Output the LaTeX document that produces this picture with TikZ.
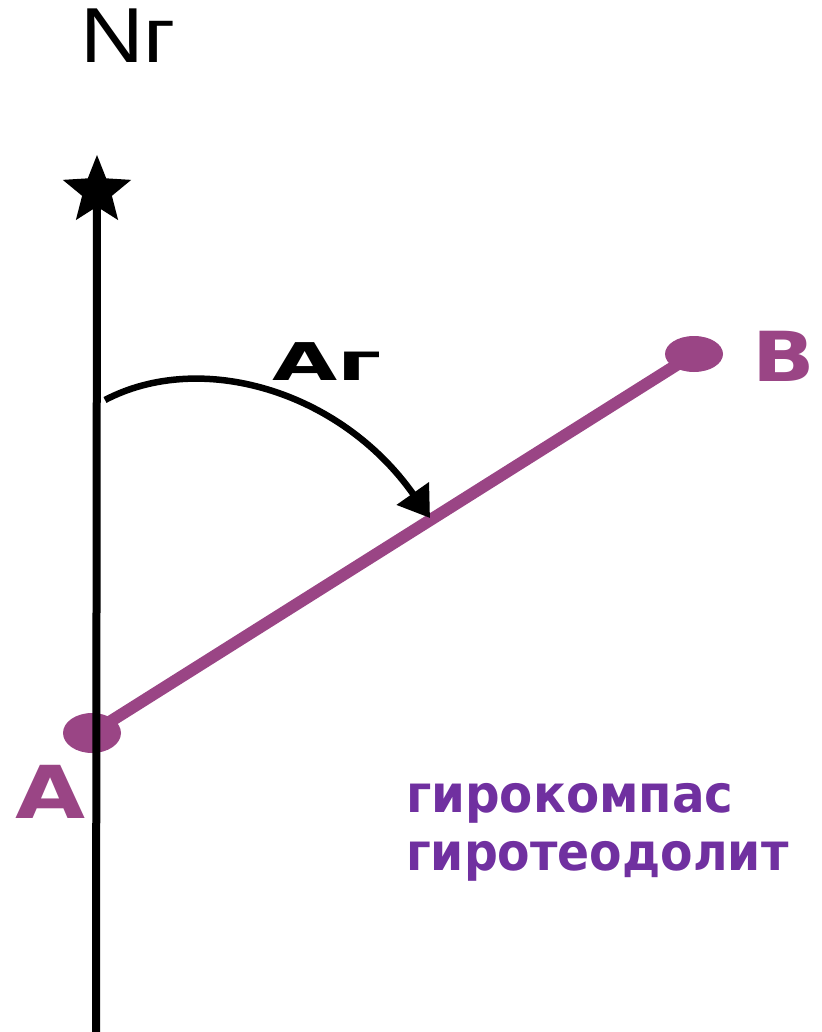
\documentclass[tikz,border=0pt]{standalone}
\usepackage{fontspec}
\setmainfont{Liberation Sans}
\newfontfamily\dejabold{DejaVu Sans}
\usetikzlibrary{shapes.geometric,arrows.meta}
\definecolor{plum}{HTML}{9A4585}
\definecolor{violet2}{HTML}{7030A0}
\tikzset{
  dot/.style={ellipse, fill=plum, inner sep=0pt},
  lbl/.style={inner sep=0pt, anchor=base west},
}
\begin{document}
\begin{tikzpicture}[x=1pt,y=-1pt]
\useasboundingbox (0,0) rectangle (821,1032);
% purple segment and points
\node[dot, minimum width=58, minimum height=40] (A) at (92,733) {};
\node[dot, minimum width=58, minimum height=36] (B) at (694,354) {};
\draw[plum, line width=12pt] (A.center) -- (B.center);
% north line with star
\node[star, star points=5, star point ratio=2.3, fill=black, minimum size=72, inner sep=0pt] (S) at (97,191) {};
\coordinate (bot) at (96,1032);
\draw[line width=8pt] (S.center) -- (bot);
% labels
\node[lbl] (N) at (80,63) {\fontsize{78}{78}\selectfont\scalebox{1.13}[1]{Nг}};
\node[lbl, text=plum] (Bl) at (752,381) {\dejabold\fontsize{69}{69}\selectfont\bfseries\scalebox{1.19}[1]{B}};
\node[lbl, text=plum] (Al) at (15,818) {\dejabold\fontsize{73}{73}\selectfont\bfseries\scalebox{1.24}[1]{A}};
\node[lbl] (Ag) at (272,380) {\dejabold\fontsize{52}{52}\selectfont\bfseries\scalebox{1.62}[1]{Aг}};
\node[lbl, text=violet2] (t1) at (406,812) {\dejabold\fontsize{52}{52}\selectfont\bfseries\scalebox{0.93}[1]{гирокомпас}};
\node[lbl, text=violet2] (t2) at (406,870) {\dejabold\fontsize{52}{52}\selectfont\bfseries\scalebox{0.91}[1]{гиротеодолит}};
% angle arc
\coordinate (a0) at (105,400);
\coordinate (a1) at (430,518);
\draw[line width=6.5pt, -{Triangle[length=30pt,width=38pt]}] (a0) .. controls (200,350) and (340,390) .. (a1);
\end{tikzpicture}
\end{document}
